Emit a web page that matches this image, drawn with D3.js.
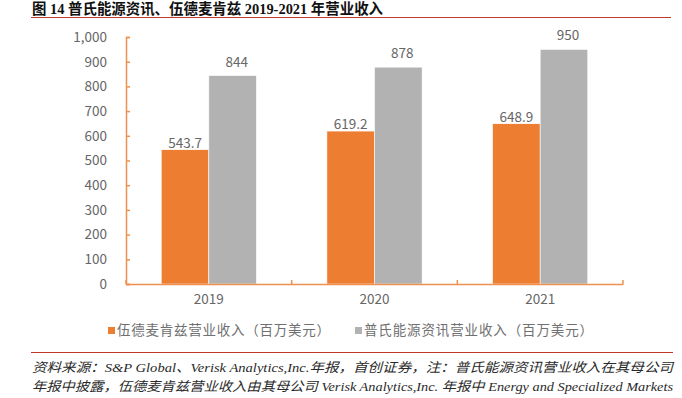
<!DOCTYPE html>
<html>
<head>
<meta charset="utf-8">
<script src="https://cdn.jsdelivr.net/npm/d3@7"></script>
<style>
  body { margin: 0; background: #fff; }
  svg { display: block; }
</style>
</head>
<body>
<svg id="chart" width="682" height="398"></svg>
<script>
// data
const years = ["2019", "2020", "2021"];
const seriesNames = ["伍德麦肯兹营业收入（百万美元）", "普氏能源资讯营业收入（百万美元）"];
const woodMac = [543.7, 619.2, 648.9];
const platts = [844, 878, 950];
const yTicks = [0, 100, 200, 300, 400, 500, 600, 700, 800, 900, 1000];
const colors = ["#ED7D31", "#B2B2B2"];

const svg = d3.select("#chart");
const margin = { left: 126, right: 59, top: 37, bottom: 114 };
const width = 682, height = 398;
const axisColor = "#F0904F";
const textColor = "#666";
const cjkSans = "'Noto Sans CJK SC', 'DejaVu Sans', sans-serif";
const serif = "'Liberation Serif', 'Noto Sans CJK SC', serif";

// title
svg.append("text")
    .attr("x", 32)
    .attr("y", 14)
    .attr("font-family", serif)
    .attr("font-weight", "bold")
    .attr("font-size", 15)
    .attr("fill", "#111")
    .attr("textLength", 351)
    .attr("lengthAdjust", "spacingAndGlyphs")
    .text("图 14 普氏能源资讯、伍德麦肯兹 2019-2021 年营业收入");

svg.append("line")
    .attr("x1", 31).attr("x2", 671)
    .attr("y1", 17.5).attr("y2", 17.5)
    .attr("stroke", "#C0392B")
    .attr("stroke-width", 1.2);

// scales
const x0 = d3.scaleBand()
    .domain(years)
    .range([margin.left, width - margin.right])
    .paddingInner(0)
    .paddingOuter(0);

const x1 = d3.scaleBand()
    .domain([0, 1])
    .range([0, x0.bandwidth()])
    .paddingInner(0)
    .paddingOuter(0.74);

const y = d3.scaleLinear()
    .domain([0, 1000])
    .range([height - margin.bottom, margin.top]);

// bars
const rows = years.map((yr, i) => ({ year: yr, values: [woodMac[i], platts[i]] }));

const groups = svg.selectAll("g.year")
    .data(rows)
    .enter()
    .append("g")
    .attr("class", "year")
    .attr("transform", d => "translate(" + x0(d.year) + ",0)");

groups.selectAll("rect")
    .data(d => d.values.map((v, k) => ({ k: k, v: v })))
    .enter()
    .append("rect")
    .attr("x", d => x1(d.k))
    .attr("y", d => y(d.v))
    .attr("width", x1.bandwidth())
    .attr("height", d => y(0) - y(d.v))
    .attr("fill", d => colors[d.k])
    .attr("stroke", "#fff")
    .attr("stroke-width", 0.6);

// value labels
groups.selectAll("text.val")
    .data(d => d.values.map((v, k) => ({ k: k, v: v })))
    .enter()
    .append("text")
    .attr("class", "val")
    .attr("x", d => x1(d.k) + x1.bandwidth() / 2 + (d.k === 1 ? 4 : 0))
    .attr("y", d => y(d.v) - (d.k === 1 ? 9 : 2))
    .attr("text-anchor", "middle")
    .attr("font-family", cjkSans)
    .attr("font-size", 13.5)
    .attr("fill", textColor)
    .text(d => d.k === 0 ? d3.format(".1f")(d.v) : d3.format("d")(d.v));

// y axis
const yAxis = d3.axisLeft(y)
    .tickValues(yTicks)
    .tickFormat(d3.format(","))
    .tickSizeInner(-4)
    .tickSizeOuter(-4)
    .tickPadding(19);

const gy = svg.append("g")
    .attr("transform", "translate(" + margin.left + ",0)")
    .call(yAxis);
gy.select(".domain").attr("stroke", axisColor).attr("stroke-width", 1.5);
gy.selectAll(".tick line").attr("stroke", axisColor).attr("stroke-width", 1.5);
gy.selectAll(".tick text")
    .attr("font-family", cjkSans)
    .attr("font-size", 13.5)
    .attr("fill", textColor);

// x axis
const xAxis = d3.axisBottom(x0).tickSize(0).tickPadding(10);
const gx = svg.append("g")
    .attr("transform", "translate(0," + y(0) + ")")
    .call(xAxis);
gx.select(".domain").attr("stroke", axisColor).attr("stroke-width", 1.5);
gx.selectAll(".tick text")
    .attr("font-family", cjkSans)
    .attr("font-size", 13.5)
    .attr("fill", textColor);

// category boundary ticks
const bounds = years.map(yr => x0(yr)).concat([x0(years[years.length - 1]) + x0.step()]);
gx.selectAll("line.bound")
    .data(bounds)
    .enter()
    .append("line")
    .attr("class", "bound")
    .attr("x1", d => d).attr("x2", d => d)
    .attr("y1", 0).attr("y2", -4)
    .attr("stroke", axisColor)
    .attr("stroke-width", 1.5);

// legend
const legendX = [108, 355];
const legend = svg.selectAll("g.legend")
    .data(seriesNames)
    .enter()
    .append("g")
    .attr("class", "legend")
    .attr("transform", (d, i) => "translate(" + legendX[i] + ",327)");

legend.append("rect")
    .attr("width", 7)
    .attr("height", 7)
    .attr("fill", (d, i) => colors[i]);

legend.append("text")
    .attr("x", 9)
    .attr("y", 8)
    .attr("font-family", cjkSans)
    .attr("font-size", 13.5)
    .attr("fill", "#707070")
    .attr("textLength", (d, i) => i === 0 ? 213 : 229)
    .attr("lengthAdjust", "spacing")
    .text(d => d);

// source note
svg.append("line")
    .attr("x1", 31).attr("x2", 673)
    .attr("y1", 352.5).attr("y2", 352.5)
    .attr("stroke", "#C0392B")
    .attr("stroke-width", 1.2);

const notes = [
    "资料来源：S&P Global、Verisk Analytics,Inc.年报，首创证券，注：普氏能源资讯营业收入在其母公司",
    "年报中披露，伍德麦肯兹营业收入由其母公司 Verisk Analytics,Inc. 年报中 Energy and Specialized Markets"
];

svg.selectAll("text.note")
    .data(notes)
    .enter()
    .append("text")
    .attr("class", "note")
    .attr("x", 32)
    .attr("y", (d, i) => 372 + i * 19)
    .attr("font-family", serif)
    .attr("font-style", "italic")
    .attr("font-size", 13)
    .attr("fill", "#2a2a2a")
    .attr("textLength", 641)
    .attr("lengthAdjust", "spacingAndGlyphs")
    .text(d => d);
</script>
</body>
</html>
